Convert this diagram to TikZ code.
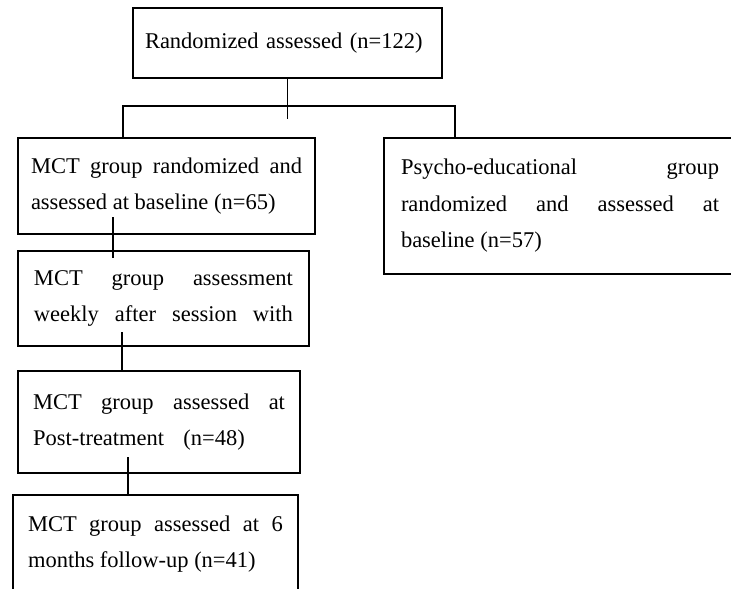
\documentclass[tikz,border=0pt]{standalone}
\usepackage{fontspec}
\setmainfont{Liberation Serif}
\usetikzlibrary{positioning}

\begin{document}
\begin{tikzpicture}[x=1pt,y=-1pt,
box/.style={draw,line width=2pt,rectangle,anchor=north west,align=justify,inner ysep=0pt,font=\fontsize{22.5}{36.5}\selectfont},
conn/.style={line width=1.6pt}]
\useasboundingbox (0,0) rectangle (731,589);
\clip (0,0) rectangle (731,589);
\node[box,align=left,text width=285pt,inner xsep=12pt,minimum height=70pt] (randomized) at (132,7) {Randomized assessed (n=122)};
\node[box,text width=271pt,inner xsep=13pt,minimum height=96pt] (mctbase) at (17,137) {MCT group randomized and\linebreak assessed at baseline (n=65)};
\node[box,text width=318pt,inner xsep=17pt,minimum height=136pt] (psycho) at (383,137) {Psycho-educational group\linebreak randomized and assessed at\linebreak baseline (n=57)};
\node[box,text width=259pt,inner xsep=16pt,minimum height=95pt] (mctweekly) at (17,250) {MCT group assessment\linebreak weekly\hfill after\hfill session\hfill with};
\node[box,text width=252pt,inner xsep=15pt,minimum height=102pt] (mctpost) at (17,370) {MCT group assessed at\linebreak Post-treatment\hspace{0.6em} (n=48)};
\node[box,text width=255pt,inner xsep=15pt,minimum height=98pt] (mctfollow) at (12,494) {MCT group assessed at 6\linebreak months follow-up (n=41)};
\coordinate (splitl) at (123,106);
\coordinate (splitr) at (455,106);
\draw[conn] (randomized.south) -- ++(0,40);
\draw[conn] (mctbase.north -| splitl) -- (splitl) -- (splitr) -- (psycho.north -| splitr);
\draw[conn] ([xshift=96pt,yshift=18pt]mctbase.south west) -- ([xshift=96pt,yshift=-8pt]mctweekly.north west);
\draw[conn] ([xshift=105pt,yshift=15pt]mctweekly.south west) -- ([xshift=105pt]mctpost.north west);
\draw[conn] ([xshift=111pt,yshift=17pt]mctpost.south west) -- ([xshift=116pt]mctfollow.north west);
\end{tikzpicture}
\end{document}
